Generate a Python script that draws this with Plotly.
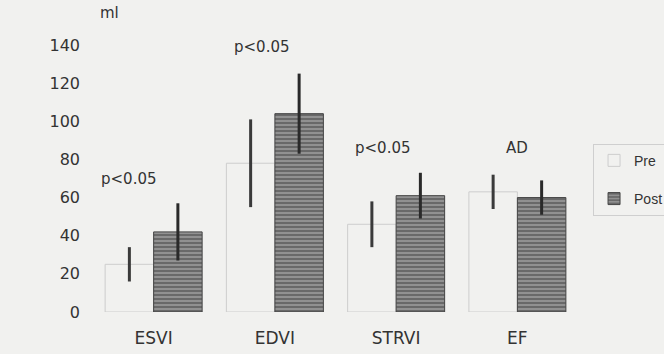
import plotly.graph_objects as go

categories = ["ESVI", "EDVI", "STRVI", "EF"]
pre_values = [25, 78, 46, 63]
pre_errors = [9, 23, 12, 9]
post_values = [42, 104, 61, 60]
post_errors = [15, 21, 12, 9]
annotations_text = ["p<0.05", "p<0.05", "p<0.05", "AD"]
annotation_y = [70, 139, 86, 86]
y_ticks = [0, 20, 40, 60, 80, 100, 120, 140]

annotation_xshift = [-25, -13, -13, 0]
font_family = "DejaVu Sans, sans-serif"
text_color = "#333333"

fig = go.Figure()
fig.add_trace(go.Bar(
    x=categories, y=pre_values, name="Pre", legendgroup="pre",
    marker=dict(color="rgba(255,255,255,0)", line=dict(color="#cdcdcd", width=1)),
    error_y=dict(type="data", array=pre_errors, visible=True, thickness=3, width=0, color="#3a3a3a"),
))
fig.add_trace(go.Bar(
    x=categories, y=post_values, name="Post", legendgroup="post",
    marker=dict(color="#8a8a8a", line=dict(color="#444444", width=1),
                pattern=dict(shape="-", fgcolor="#363636", bgcolor="#919191", size=4, solidity=0.45)),
    error_y=dict(type="data", array=post_errors, visible=True, thickness=3, width=0, color="#2a2a2a"),
))

for cat, txt, ya, xs in zip(categories, annotations_text, annotation_y, annotation_xshift):
    fig.add_annotation(x=cat, y=ya, text=txt, showarrow=False, xshift=xs,
                       font=dict(size=15, color=text_color, family=font_family))

fig.update_layout(
    width=664, height=354,
    margin=dict(l=93, r=86, t=45, b=42, autoexpand=False),
    paper_bgcolor="#f1f1ef", plot_bgcolor="#f1f1ef",
    barmode="group", bargap=0.2, bargroupgap=0,
    font=dict(family=font_family, size=15, color=text_color),
    showlegend=True,
    legend=dict(x=1.031, y=0.63, xanchor="left", yanchor="top", bgcolor="rgba(0,0,0,0)",
                bordercolor="#cfcfcf", borderwidth=1, tracegroupgap=17, itemwidth=30,
                traceorder="grouped",
                font=dict(size=14, color=text_color, family="Liberation Sans, Arial, sans-serif")),
)
fig.update_yaxes(range=[0, 140], tickvals=y_ticks, showgrid=False, zeroline=False,
                 showline=False, ticks="", ticklabelstandoff=12, automargin=False,
                 title=None, tickfont=dict(size=16, color=text_color))
fig.update_xaxes(showgrid=False, showline=False, ticks="", ticklabelstandoff=14, automargin=False,
                 tickfont=dict(size=17, color=text_color))
fig.add_annotation(xref="paper", yref="paper", x=0.01, y=1.0, yshift=43, text="ml", showarrow=False,
                   font=dict(size=15, color=text_color, family=font_family))

fig.write_html("out.html", config={"displayModeBar": False},
               post_script="document.body.style.margin='0';document.body.style.background='#f1f1ef';")
